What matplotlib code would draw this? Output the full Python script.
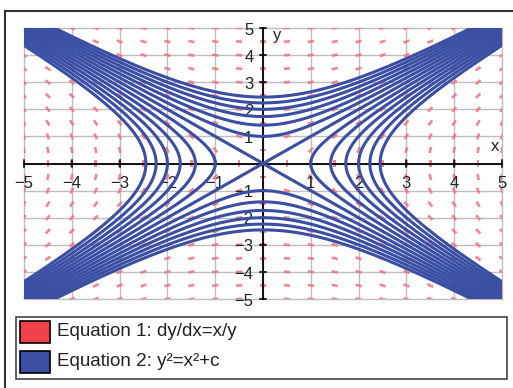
import numpy as np
import matplotlib
matplotlib.use('Agg')
import matplotlib.pyplot as plt
from matplotlib.patches import Rectangle
from matplotlib.lines import Line2D

plt.rcParams['font.family'] = ['Liberation Sans', 'DejaVu Sans']

# integration constants for y^2 = x^2 + c
c_values = [-6, -5, -4, -3, -2, -1, 0, 1, 2, 3, 4, 5, 6]
x_ticks = [-5, -4, -3, -2, -1, 1, 2, 3, 4, 5]
y_ticks = [-5, -4, -3, -2, -1, 1, 2, 3, 4, 5]
field_step = 0.5
legend_labels = ['Equation 1: dy/dx=x/y', 'Equation 2: y\u00b2=x\u00b2+c']

red = '#f0404a'
blue = '#3a4fa3'
dash_col = '#f4707c'

fig = plt.figure(figsize=(5.13, 3.88), dpi=100)
ax = fig.add_axes([24 / 513, 89 / 388, 478 / 513, 271 / 388])
ax.set_xlim(-5, 5)
ax.set_ylim(-5, 5)
ax.axis('off')

# grid
for v in range(-5, 6):
    ax.plot([v, v], [-5, 5], color='#bdbdbd', lw=1, zorder=1, clip_on=False)
    ax.plot([-5, 5], [v, v], color='#bdbdbd', lw=1, zorder=1, clip_on=False)

# slope field dy/dx = x/y
g = np.arange(-5, 5 + 1e-9, field_step)
X, Y = np.meshgrid(g, g)
X = X.ravel()
Y = Y.ravel()
keep = ~((X == 0) & (Y == 0))
X, Y = X[keep], Y[keep]
r = np.hypot(X, Y)
U = Y / r
V = X / r
flip = U < 0
U[flip] *= -1
V[flip] *= -1
ax.quiver(X, Y, U, V, angles='xy', scale_units='inches', scale=1 / 0.062,
          pivot='mid', headwidth=0, headlength=0, headaxislength=0,
          width=0.0055, color=dash_col, alpha=0.85, zorder=2)

# axes through the origin
ax.plot([-5, 5], [0, 0], color='black', lw=1.3, zorder=3, clip_on=False)
ax.plot([0, 0], [-5, 5], color='black', lw=1.3, zorder=3, clip_on=False)
for t in range(-5, 6):
    ax.plot([t, t], [-0.12, 0.12], color='black', lw=1.1, zorder=3, clip_on=False)
    ax.plot([-0.07, 0.07], [t, t], color='black', lw=1.1, zorder=3, clip_on=False)

lab_kw = dict(fontsize=12, color='#222222', zorder=3)
for t in x_ticks:
    ax.text(t, -0.72, '\u2212%d' % -t if t < 0 else str(t), ha='center', va='center', **lab_kw)
for t in y_ticks:
    ax.text(-0.2, t - 0.08, '\u2212%d' % -t if t < 0 else str(t), ha='right', va='center', **lab_kw)
ax.text(4.85, 0.62, 'x', ha='center', va='center', **lab_kw)
ax.text(0.3, 4.72, 'y', ha='center', va='center', **lab_kw)

# solution curves
xs = np.linspace(-5.5, 5.5, 800)
for c in c_values:
    if c > 0:
        ys = np.sqrt(xs ** 2 + c)
        ax.plot(xs, ys, color=blue, lw=2.2, zorder=4)
        ax.plot(xs, -ys, color=blue, lw=2.2, zorder=4)
    elif c < 0:
        ys = np.linspace(-5.5, 5.5, 800)
        xc = np.sqrt(ys ** 2 - c)
        ax.plot(xc, ys, color=blue, lw=2.2, zorder=4)
        ax.plot(-xc, ys, color=blue, lw=2.2, zorder=4)
    else:
        ax.plot(xs, xs, color=blue, lw=2.2, zorder=4)
        ax.plot(xs, -xs, color=blue, lw=2.2, zorder=4)

# outer frame (left and top edges)
fig.add_artist(Line2D([5 / 513, 5 / 513], [0, 377 / 388], color='#333333', lw=1.5))
fig.add_artist(Line2D([5 / 513, 1], [377 / 388, 377 / 388], color='#333333', lw=1.5))

# legend box
fig.add_artist(Rectangle((16 / 513, 9 / 388), 491 / 513, 62 / 388, fill=False,
                         edgecolor='#444444', lw=1.2))
for i, (lab, col) in enumerate(zip(legend_labels, [red, blue])):
    yc = (388 - 332 - i * 30) / 388
    fig.add_artist(Rectangle((20 / 513, yc - 11 / 388), 30 / 513, 22 / 388,
                             facecolor=col, edgecolor='black', lw=1.2))
    fig.text(57 / 513, yc, lab, fontsize=13.5, color='#222222', va='center', ha='left')

fig.savefig('out.png', dpi=100)
